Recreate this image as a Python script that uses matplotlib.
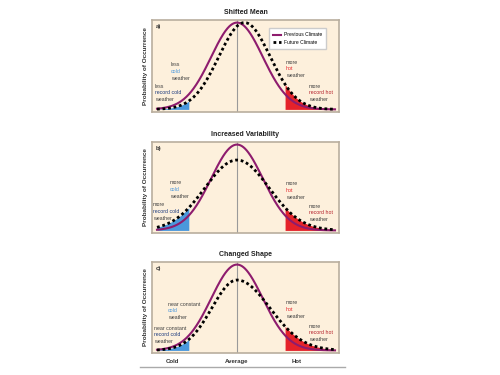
import numpy as np
import matplotlib.pyplot as plt
from matplotlib.lines import Line2D

plt.rcParams['font.family'] = ['Liberation Sans', 'DejaVu Sans']

# panel titles and tags
panel_titles = ['Shifted Mean', 'Increased Variability', 'Changed Shape']
panel_tags = ['a)', 'b)', 'c)']

# previous climate (same in every panel)
prev_mean = 0.0
prev_sd = 1.03
prev_peak = 1.0

# future climate, one entry per panel
fut_mean = [0.3, 0.0, 0.0]
fut_sd_left = [1.03, 1.28, 1.0]
fut_sd_right = [1.03, 1.28, 1.31]
fut_peak = [1.0, 0.82, 0.82]

# limits of the shaded extremes and drawn range
cold_limit = -1.92
hot_limit = 1.92
x_start, x_end = -3.2, 3.92

# bottom axis
tick_pos = [-2.6, 0.0, 2.4]
tick_labels = ['Cold', 'Average', 'Hot']

# annotation words
cold_first = ['less', 'more', 'near constant']
cold_record_first = ['less', 'more', 'near constant']
hot_first = ['more', 'more', 'more']
hot_record_first = ['more', 'more', 'more']

PURPLE = '#8e1c6e'
GRAY_TXT = '#3f3f3f'
LBLUE = '#4a98dc'
DBLUE = '#1d3b7e'
RED = '#e5222a'
DRED = '#b3202a'

W, H = 500, 375
fig = plt.figure(figsize=(5, 3.75), dpi=100)


def fx(x):
    return x / W


def fy(y):
    return 1 - y / H


def bell(x, m, sl, sr, peak):
    s = np.where(x < m, sl, sr)
    return peak * np.exp(-(x - m) ** 2 / (2 * s ** 2))


# axes boxes in pixels: (top, bottom)
boxes = [(20, 112), (142, 233), (262, 353)]
left_px, right_px = 152, 339

# text block anchors (pixels) per panel: cold, cold record, hot, hot record
blocks = [
    [(171, 65), (155, 86), (286, 62), (309, 86)],
    [(170, 183), (153, 205), (286, 184), (309, 206)],
    [(168, 304), (154, 328), (286, 303), (309, 326)],
]

x = np.linspace(x_start, x_end, 600)

for i in range(3):
    top, bot = boxes[i]
    ax = fig.add_axes([fx(left_px), fy(bot), (right_px - left_px) / W, (bot - top) / H])
    ax.set_facecolor('#fdf0dc')
    for sp in ax.spines.values():
        sp.set_color('#b9ae9e')
        sp.set_linewidth(1.2)

    prev = bell(x, prev_mean, prev_sd, prev_sd, prev_peak)
    fut = bell(x, fut_mean[i], fut_sd_left[i], fut_sd_right[i], fut_peak[i])

    ax.axvline(0, color='#9a9a9a', lw=0.8, zorder=1)
    ax.fill_between(x, 0, fut, where=x <= cold_limit, color=LBLUE, lw=0, zorder=2)
    ax.fill_between(x, 0, fut, where=x >= hot_limit, color=RED, lw=0, zorder=2)
    ax.plot(x, prev, color=PURPLE, lw=1.5, zorder=3, label='Previous Climate')
    ax.plot(x, fut, color='black', lw=2.0, ls=(0, (1.0, 1.0)), zorder=4, label='Future Climate')

    ax.set_xlim(-3.4, 4.08)
    ax.set_ylim(-0.03, 1.03)
    ax.set_yticks([])
    if i == 2:
        ax.set_xticks(tick_pos, tick_labels)
        ax.tick_params(axis='x', length=0, pad=4, labelsize=4.3, colors='#333333')
        for t in ax.get_xticklabels():
            t.set_fontweight('bold')
    else:
        ax.set_xticks([])

    ax.set_title(panel_titles[i], fontsize=5, fontweight='bold', pad=4, color='#222222')
    ax.text(0.02, 0.93, panel_tags[i], transform=ax.transAxes, fontsize=4.3,
            fontweight='bold', color='#333333', va='center')

    fig.text(fx(145), fy((top + bot) / 2), 'Probability of Occurrence', rotation=90,
             ha='center', va='center', fontsize=4.6, fontweight='bold', color='#333333')

    if i == 0:
        ax.legend(loc='upper right', bbox_to_anchor=(0.945, 0.935), fontsize=3.6,
                  handlelength=1.5, handletextpad=0.6, frameon=True, fancybox=False,
                  edgecolor='#cccccc', framealpha=1, borderpad=0.8, labelspacing=0.5)

    lines = [
        [(cold_first[i], GRAY_TXT), ('cold', LBLUE), ('weather', GRAY_TXT)],
        [(cold_record_first[i], GRAY_TXT), ('record cold', DBLUE), ('weather', GRAY_TXT)],
        [(hot_first[i], GRAY_TXT), ('hot', RED), ('weather', GRAY_TXT)],
        [(hot_record_first[i], GRAY_TXT), ('record hot', DRED), ('weather', GRAY_TXT)],
    ]
    for (bx, by), blk in zip(blocks[i], lines):
        for k, (txt, col) in enumerate(blk):
            fig.text(fx(bx), fy(by + k * 6.6), txt, fontsize=3.8, color=col,
                     ha='left', va='center')

fig.add_artist(Line2D([fx(140), fx(345)], [fy(367), fy(367)], color='#aaaaaa', lw=1.0))

fig.savefig('out.png', dpi=100)
